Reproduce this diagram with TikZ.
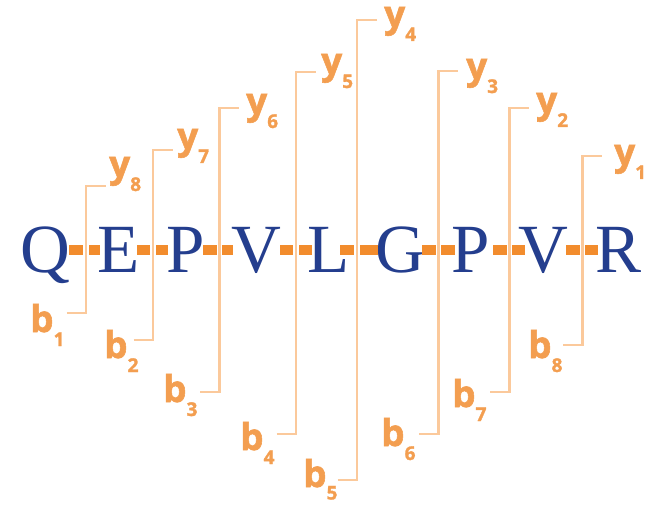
\documentclass[tikz,border=0pt]{standalone}
\usepackage{fontspec}
\setmainfont{Liberation Serif}
\newfontfamily\labfont{Open Sans}[BoldFeatures={FakeBold=1.5}]
\definecolor{aablue}{RGB}{36,62,142}
\definecolor{barorange}{RGB}{242,140,45}
\definecolor{laborange}{RGB}{243,158,80}
\definecolor{fragpeach}{RGB}{251,201,155}
\newcommand{\ionlab}[2]{#1\raisebox{-14pt}{\fontsize{19}{19}\selectfont #2}}
\begin{document}
\begin{tikzpicture}[x=1pt,y=-1pt,
 aa/.style={inner sep=0pt, text height=45pt, text depth=0pt, font=\fontsize{69}{69}\selectfont, text=aablue},
 bar/.style 2 args={draw=barorange, line width=10pt, shorten <=#1pt, shorten >=#2pt},
 frag/.style={draw=fragpeach, line width=2.2pt, preaction={draw=white, line width=5.8pt}},
 ion/.style={inner sep=0pt, anchor=base west, text=laborange, font=\labfont\bfseries\fontsize{37}{37}\selectfont}]
\useasboundingbox (0,0) rectangle (653,505);

% residues
\node[aa] (Q)  at (45,250)    {Q};
\node[aa] (E)  at (118.5,250) {E};
\node[aa] (P1) at (185.5,250) {P};
\node[aa] (V1) at (256.5,250) {V};
\node[aa] (L)  at (329,250)   {L};
\node[aa] (G)  at (400,250)   {G};
\node[aa] (P2) at (471,250)   {P};
\node[aa] (V2) at (543.5,250) {V};
\node[aa] (R)  at (618.5,250) {R};

% peptide bonds
\draw[bar={24}{18.5}]   (Q.center)  -- (E.center);
\draw[bar={18.5}{17.5}] (E.center)  -- (P1.center);
\draw[bar={17.5}{23.5}] (P1.center) -- (V1.center);
\draw[bar={23.5}{17}]   (V1.center) -- (L.center);
\draw[bar={11}{22}]     (L.center)  -- (G.center);
\draw[bar={22}{16}]     (G.center)  -- (P2.center);
\draw[bar={22}{18.5}]   (P2.center) -- (V2.center);
\draw[bar={22.5}{20.5}] (V2.center) -- (R.center);

% hook ends
\coordinate (hb1) at (66.5,313);  \coordinate (hy8) at (105.5,186);
\coordinate (hb2) at (133.5,340); \coordinate (hy7) at (172.5,150);
\coordinate (hb3) at (200,392);   \coordinate (hy6) at (239,108);
\coordinate (hb4) at (276.5,434); \coordinate (hy5) at (315.5,72);
\coordinate (hb5) at (337.5,480); \coordinate (hy4) at (376.5,20);
\coordinate (hb6) at (419,434);   \coordinate (hy3) at (458,71);
\coordinate (hb7) at (490,392);   \coordinate (hy2) at (529,108);
\coordinate (hb8) at (563,345);   \coordinate (hy1) at (602,156);

% fragmentation lines
\draw[frag] (hb1) -- ++(19.5,0) |- (hy8);
\draw[frag] (hb2) -- ++(19.5,0) |- (hy7);
\draw[frag] (hb3) -- ++(19.5,0) |- (hy6);
\draw[frag] (hb4) -- ++(19.5,0) |- (hy5);
\draw[frag] (hb5) -- ++(19.5,0) |- (hy4);
\draw[frag] (hb6) -- ++(19.5,0) |- (hy3);
\draw[frag] (hb7) -- ++(19.5,0) |- (hy2);
\draw[frag] (hb8) -- ++(19.5,0) |- (hy1);

% ion labels
\node[ion] (b1) at (30,332)  {\ionlab{b}{1}};
\node[ion] (b2) at (104,358) {\ionlab{b}{2}};
\node[ion] (b3) at (163,402) {\ionlab{b}{3}};
\node[ion] (b4) at (240,450) {\ionlab{b}{4}};
\node[ion] (b5) at (303,487) {b\raisebox{-12.5pt}{\fontsize{19}{19}\selectfont 5}};
\node[ion] (b6) at (381,446) {\ionlab{b}{6}};
\node[ion] (b7) at (452,407) {\ionlab{b}{7}};
\node[ion] (b8) at (528,358) {\ionlab{b}{8}};

\node[ion] (y8) at (109,177) {\ionlab{y}{8}};
\node[ion] (y7) at (177,149) {\ionlab{y}{7}};
\node[ion] (y6) at (246,114) {\ionlab{y}{6}};
\node[ion] (y5) at (321,74)  {\ionlab{y}{5}};
\node[ion] (y4) at (384,27)  {\ionlab{y}{4}};
\node[ion] (y3) at (466,79)  {\ionlab{y}{3}};
\node[ion] (y2) at (536,113) {\ionlab{y}{2}};
\node[ion] (y1) at (614,165) {\ionlab{y}{1}};
\end{tikzpicture}
\end{document}
